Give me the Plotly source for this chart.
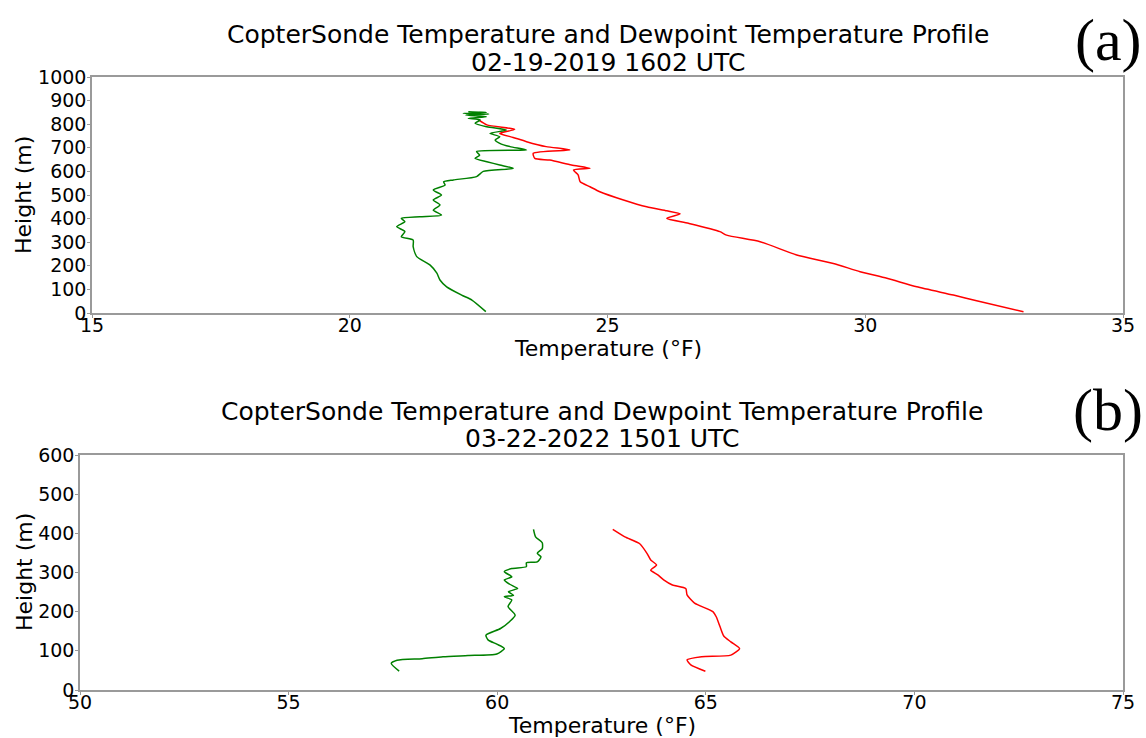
import plotly.graph_objects as go

# ---- Panel (a): 02-19-2019 1602 UTC ----
a_temp_height = [5, 52, 76, 111, 147, 175, 210, 246, 302, 330, 345, 380, 401, 420, 433,
                 450, 479, 514, 535, 556, 585, 606, 613, 627, 648, 655, 677, 691, 705,
                 726, 744, 761, 778, 797, 818]
a_temp = [33.07, 32.16, 31.71, 31.0, 30.42, 29.90, 29.38, 28.67, 27.96, 27.31, 27.18,
          26.57, 26.15, 26.41, 26.15, 25.76, 25.31, 24.85, 24.66, 24.47, 24.43, 24.34,
          24.66, 24.30, 23.88, 23.59, 23.56, 24.27, 23.81, 23.43, 23.17, 22.91, 23.2,
          22.66, 22.5]

a_dew_height = [6, 55, 76, 111, 140, 169, 203, 239, 281, 309, 323, 345, 366, 387, 401,
                408, 415, 436, 458, 479, 500, 521, 542, 556, 564, 578, 600, 613, 627,
                641, 655, 669, 684, 691, 705, 719, 733, 747, 761, 775, 789, 804, 818,
                825, 832, 839, 843, 846, 850, 853]
a_dew = [22.64, 22.37, 22.17, 21.88, 21.75, 21.69, 21.56, 21.30, 21.23, 21.23, 21.0,
         21.07, 20.91, 21.07, 21.0, 21.36, 21.78, 21.62, 21.75, 21.62, 21.78, 21.62,
         21.85, 21.82, 22.01, 22.46, 22.59, 23.17, 22.91, 22.66, 22.43, 22.52, 22.46,
         23.43, 23.11, 22.91, 22.82, 22.91, 22.72, 23.04, 22.66, 22.43, 22.53, 22.3,
         22.65, 22.25, 22.7, 22.2, 22.65, 22.3]

# ---- Panel (b): 03-22-2022 1501 UTC ----
b_temp_height = [48, 64, 77, 85, 89, 106, 123, 138, 162, 187, 200, 222, 243, 259, 268,
                 281, 294, 306, 319, 332, 349, 374, 391, 410]
b_temp = [64.99, 64.64, 64.55, 64.90, 65.60, 65.81, 65.60, 65.43, 65.34, 65.25, 65.17,
          64.73, 64.55, 64.52, 64.2, 63.99, 63.85, 63.68, 63.82, 63.68, 63.59, 63.41,
          63.06, 62.77]

b_dew_height = [48, 68, 76, 80, 85, 88, 92, 106, 117, 128, 140, 157, 175, 191, 213,
                230, 238, 242, 251, 259, 270, 281, 289, 302, 310, 315, 325, 327, 340,
                349, 361, 376, 391, 410]
b_dew = [57.65, 57.46, 57.6, 58.2, 58.7, 59.3, 59.99, 60.17, 59.99, 59.78, 59.73, 60.08,
         60.3, 60.43, 60.26, 60.35, 60.17, 60.39, 60.27, 60.49, 60.3, 60.17, 60.35,
         60.17, 60.35, 60.7, 60.7, 60.96, 61.05, 60.96, 61.08, 61.08, 60.92, 60.87]

title_line1 = "CopterSonde Temperature and Dewpoint Temperature Profile"
a_title_line2 = "02-19-2019 1602 UTC"
b_title_line2 = "03-22-2022 1501 UTC"
x_title = "Temperature (°F)"
y_title = "Height (m)"

W, H = 1146, 738
FONT = "DejaVu Sans"

fig = go.Figure()
line_w = 1.5
for xs, ys, col, xa, ya in [(a_temp, a_temp_height, "red", "x", "y"),
                            (a_dew, a_dew_height, "green", "x", "y"),
                            (b_temp, b_temp_height, "red", "x2", "y2"),
                            (b_dew, b_dew_height, "green", "x2", "y2")]:
    fig.add_trace(go.Scatter(x=xs, y=ys, mode="lines",
                             line=dict(color=col, width=line_w, shape="spline", smoothing=0.6),
                             xaxis=xa, yaxis=ya, showlegend=False, hoverinfo="skip"))

def px_x(p):
    return p / W

def px_y(p):
    return 1 - p / H

tickfont = dict(family=FONT, size=19, color="black")
axis_common = dict(showgrid=False, zeroline=False, showline=True, mirror=True,
                   linecolor="#9a9a9a", linewidth=1.5, ticks="outside", ticklen=3,
                   tickwidth=1, tickcolor="#9a9a9a", tickfont=tickfont,
                   automargin=False)

fig.update_layout(
    width=W, height=H,
    margin=dict(l=0, r=0, t=0, b=0),
    paper_bgcolor="white", plot_bgcolor="white",
    xaxis=dict(domain=[px_x(92), px_x(1123)], range=[15, 35], dtick=5, anchor="y",
               ticklabelstandoff=-9, **axis_common),
    yaxis=dict(domain=[px_y(313), px_y(77)], range=[0, 1000], dtick=100, anchor="x",
               ticklabelstandoff=-3, **axis_common),
    xaxis2=dict(domain=[px_x(80), px_x(1123)], range=[50, 75], dtick=5, anchor="y2",
                ticklabelstandoff=-9, **axis_common),
    yaxis2=dict(domain=[px_y(690), px_y(455)], range=[0, 600], dtick=100, anchor="x2",
                ticklabelstandoff=-3, **axis_common),
)

tfont = dict(family=FONT, size=25, color="black")
lfont = dict(family=FONT, size=22, color="black")
annos = [
    dict(text=title_line1, x=px_x(607.5), y=px_y(35), font=tfont),
    dict(text=a_title_line2, x=px_x(607.5), y=px_y(62), font=tfont),
    dict(text=title_line1, x=px_x(601.5), y=px_y(411), font=tfont),
    dict(text=b_title_line2, x=px_x(601.5), y=px_y(438), font=tfont),
    dict(text=x_title, x=px_x(607.5), y=px_y(348), font=lfont),
    dict(text=x_title, x=px_x(601.5), y=px_y(725), font=lfont),
    dict(text=y_title, x=px_x(24), y=px_y(195), font=lfont, textangle=-90),
    dict(text=y_title, x=px_x(24), y=px_y(572), font=lfont, textangle=-90),
    dict(text="(a)", x=px_x(1108), y=px_y(40),
         font=dict(family="Liberation Serif", size=60, color="black")),
    dict(text="(b)", x=px_x(1108), y=px_y(410),
         font=dict(family="Liberation Serif", size=60, color="black")),
]
for a in annos:
    fig.add_annotation(xref="paper", yref="paper", showarrow=False,
                       xanchor="center", yanchor="middle", **a)

fig.write_html("out.html", config={"displayModeBar": False},
               post_script="document.body.style.margin='0';document.body.style.padding='0';")
